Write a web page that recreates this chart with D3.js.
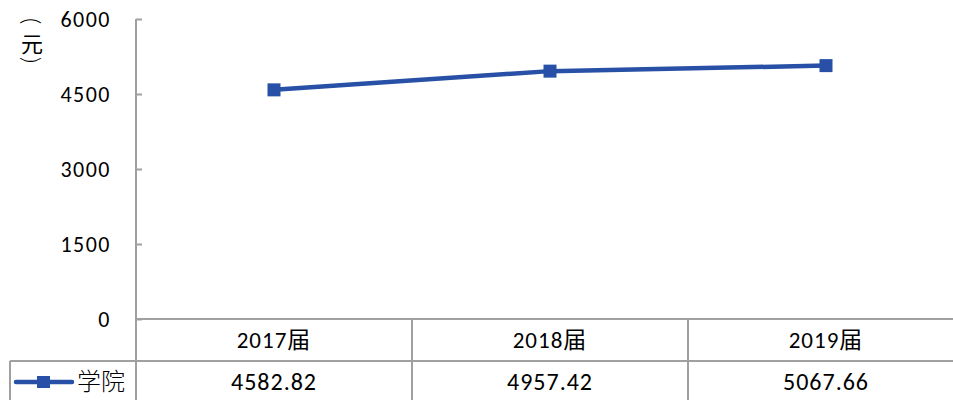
<!DOCTYPE html>
<html><head><meta charset="utf-8">
<script src="https://cdn.jsdelivr.net/npm/d3@7"></script>
<style>
html,body{margin:0;padding:0;background:#fff;}
svg{display:block;}
text{font-family:"Carlito",Lato,"Noto Sans CJK SC",sans-serif;fill:#000;}
</style></head>
<body>
<svg id="c" width="953" height="400"></svg>
<script>
const categories = ["2017届", "2018届", "2019届"];
const seriesName = "学院";
const values = [4582.82, 4957.42, 5067.66];
const valueLabels = ["4582.82", "4957.42", "5067.66"];
const yTicks = [0, 1500, 3000, 4500, 6000];
const yTitleParts = ["(", "元", ")"];

(function () {
const svg = d3.select("#c");
const mLeft = 136, mTop = 19, mBottom = 319, bandW = 276;
const color = "#2750A6", gridColor = "#a0a0a0";

const x = d3.scaleBand().domain(categories).range([mLeft, mLeft + bandW * categories.length]).padding(0);
const y = d3.scaleLinear().domain([0, 6000]).range([mBottom, mTop]);

// y axis
const yAxis = d3.axisLeft(y).tickValues(yTicks).tickSize(-6).tickPadding(25).tickFormat(d3.format("d"));
const ya = svg.append("g").attr("transform", `translate(${mLeft},0)`).call(yAxis);
ya.select(".domain").remove();
ya.selectAll(".tick line").attr("stroke", gridColor).attr("stroke-width", 2);
ya.selectAll(".tick text").attr("font-size", 22).attr("fill", "#000").attr("dy", "0.35em")
  .attr("letter-spacing", 1.5)
  .style("font-family", "Carlito,Lato,sans-serif");
svg.append("line").attr("x1", mLeft).attr("x2", mLeft).attr("y1", mTop).attr("y2", 400)
  .attr("stroke", gridColor).attr("stroke-width", 2);

// y title (vertical, parentheses rotated)
const tcx = 32;
const tPos = [21, 42, 60];
yTitleParts.forEach((t, i) => {
  const el = svg.append("text").attr("x", tcx).attr("y", tPos[i]).attr("text-anchor", "middle")
    .attr("dominant-baseline", "central").text(t);
  if (i === 1) {
    el.attr("font-size", 22).style("font-family", "'Noto Sans CJK SC',sans-serif");
  } else {
    el.attr("font-size", 24).style("font-family", "Lato,sans-serif").style("font-weight", 300)
      .attr("transform", `rotate(90,${tcx},${tPos[i]})`);
  }
});

// table lines
const row1 = 361;
svg.append("line").attr("x1", mLeft).attr("x2", 953).attr("y1", mBottom).attr("y2", mBottom).attr("stroke", gridColor).attr("stroke-width", 2);
svg.append("line").attr("x1", 10).attr("x2", 953).attr("y1", row1).attr("y2", row1).attr("stroke", gridColor).attr("stroke-width", 2);
svg.append("line").attr("x1", 10).attr("x2", 10).attr("y1", row1).attr("y2", 400).attr("stroke", gridColor).attr("stroke-width", 2);
categories.forEach((c, i) => {
  if (i > 0) svg.append("line").attr("x1", x(c)).attr("x2", x(c)).attr("y1", mBottom).attr("y2", 400).attr("stroke", gridColor).attr("stroke-width", 2);
});

// category labels
svg.append("g").selectAll("text").data(categories).join("text")
  .attr("x", d => x(d) + x.bandwidth() / 2).attr("y", 340).attr("dy", "0.35em")
  .attr("text-anchor", "middle").attr("font-size", 23).attr("letter-spacing", 1).text(d => d);

// value labels
svg.append("g").selectAll("text").data(valueLabels).join("text")
  .attr("x", (d, i) => x(categories[i]) + x.bandwidth() / 2).attr("y", 382).attr("dy", "0.35em")
  .attr("text-anchor", "middle").attr("font-size", 24).attr("letter-spacing", 1).text(d => d);

// line
const line = d3.line().x((d, i) => x(categories[i]) + x.bandwidth() / 2).y(d => y(d));
svg.append("path").datum(values).attr("d", line).attr("fill", "none")
  .attr("stroke", color).attr("stroke-width", 4.5).attr("stroke-linejoin", "round");
const ms = 13;
svg.append("g").selectAll("rect").data(values).join("rect")
  .attr("x", (d, i) => x(categories[i]) + x.bandwidth() / 2 - ms / 2)
  .attr("y", d => y(d) - ms / 2).attr("width", ms).attr("height", ms).attr("fill", color);

// legend
svg.append("line").attr("x1", 16).attr("x2", 72).attr("y1", 382).attr("y2", 382)
  .attr("stroke", color).attr("stroke-width", 4.5).attr("stroke-linecap", "round");
svg.append("rect").attr("x", 37).attr("y", 376).attr("width", 13).attr("height", 12).attr("fill", color);
svg.append("text").attr("x", 77).attr("y", 382).attr("dy", "0.35em").attr("font-size", 24)
  .style("font-family", "'Noto Sans CJK SC',sans-serif").style("font-weight", 300).text(seriesName);
})();
</script>
</body></html>
